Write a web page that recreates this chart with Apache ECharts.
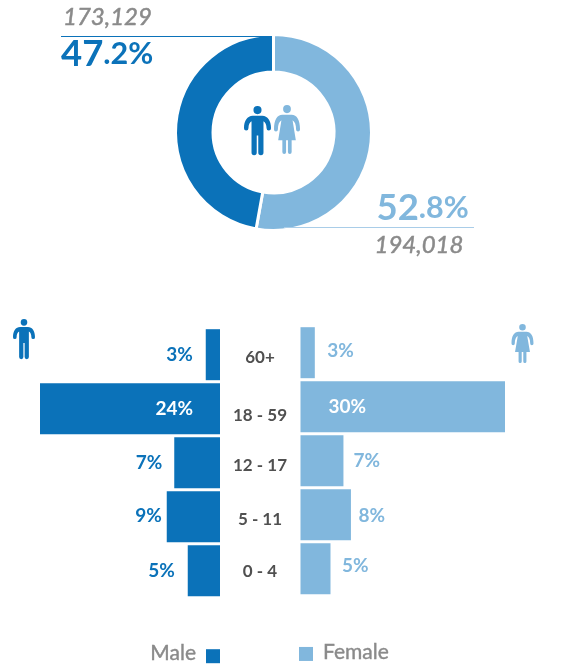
<!DOCTYPE html>
<html>
<head>
<meta charset="utf-8">
<title>Population by sex and age</title>
<script src="https://cdn.jsdelivr.net/npm/echarts@6/dist/echarts.min.js"></script>
<style>
  html, body { margin: 0; padding: 0; background: #fff; }
  #chart { width: 568px; height: 664px; }
</style>
</head>
<body>
<div id="chart"></div>
<script>
// headline totals
const sexNames = ['Female', 'Male']
const sexTotals = [194018, 173129]
const sexShareWhole = ['52', '47']
const sexShareRest = ['.8%', '.2%']

// age pyramid, top row first. bar lengths are read off the picture, they
// don't follow the printed percentages exactly
const ageGroups = ['60+', '18 - 59', '12 - 17', '5 - 11', '0 - 4']
const maleBars = [1.9, 24, 6.1, 7.1, 4.3]
const femaleBars = [2.1, 30, 6.3, 7.4, 4.4]
const maleLabels = ['3%', '24%', '7%', '9%', '5%']
const femaleLabels = ['3%', '30%', '7%', '8%', '5%']

const BLUE = '#0b72b9'
const LIGHT = '#81b7dd'
const GREY = '#8a8a8a'
const FONT = 'Lato'

// the source labels are hand placed, so nudge each one: [gap from bar end, dy]
// a negative gap means the label sits inside the bar, that far from the axis
const maleLabelNudge = [[13, 0], [-27, 0], [12, 0], [5, -1], [13, 0]]
const femaleLabelNudge = [[12.5, -1.5], [-28, 0], [10, 0], [7.5, 1.5], [11.5, -3]]
const ageLabelDy = [3, 6.5, 3, 3, 1]

// icons, drawn in a 28 x 50 box
const manIcon = 'M14 0a4.2 4.2 0 1 1 0 8.4a4.2 4.2 0 1 1 0-8.4z' +
  'M9 10H19C24.5 10 28 15 28 22.8a2.3 2.3 0 0 1-4.6 0C23.4 19 22 16.5 20.2 15.5V47.5a2.7 2.7 0 0 1-5.4 0V30H13.2' +
  'V47.5a2.7 2.7 0 0 1-5.4 0V15.5C6 16.5 4.6 19 4.6 22.8a2.3 2.3 0 0 1-4.6 0C0 15 3.5 10 9 10z'
const womanIcon = 'M14 0a4.2 4.2 0 1 1 0 8.4a4.2 4.2 0 1 1 0-8.4z' +
  'M9 10H19C24.5 10 28 15 28 25a2.1 2.1 0 0 1-4.2 0C23.8 20 22.5 17 20 15.5L23.5 36H19V48a2 2 0 0 1-4 0V36H13' +
  'V48a2 2 0 0 1-4 0V36H4.5L8 15.5C5.5 17 4.2 20 4.2 25a2.1 2.1 0 0 1-4.2 0C0 15 3.5 10 9 10z'

echarts.graphic.registerShape('manIcon', echarts.graphic.extendPath(manIcon, {}))
echarts.graphic.registerShape('womanIcon', echarts.graphic.extendPath(womanIcon, {}))

const icon = (type, color, x, y, width, height) => ({
  type,
  x,
  y,
  scaleX: width / 28,
  scaleY: height / 50,
  style: { fill: color }
})

const leader = (x1, x2, y, color) => ({
  type: 'line',
  z: 10,
  shape: { x1, y1: y, x2, y2: y },
  style: { stroke: color, lineWidth: 1 }
})

const headline = (x, y, whole, rest, color) => ({
  type: 'text',
  x,
  y,
  style: {
    text: `{a|${whole}}{b|${rest}}`,
    rich: {
      a: { fontFamily: FONT, fontSize: 36.5, fontWeight: 'bold', fill: color, lineHeight: 44 },
      b: { fontFamily: FONT, fontSize: 30.5, fontWeight: 'bold', fill: color, lineHeight: 44 }
    }
  }
})

// no medium weight to hand, a thin same colour outline gets close to it
const count = (x, y, value) => ({
  type: 'text',
  x,
  y,
  style: {
    text: value.toLocaleString('en-US'),
    fontFamily: FONT,
    fontSize: 24,
    fontStyle: 'italic',
    fill: GREY,
    stroke: GREY,
    lineWidth: 0.5
  }
})

const barData = (values, labels, nudges, color, side, insideSide) => values.map((value, i) => {
  const inside = nudges[i][0] < 0
  return {
    value,
    label: {
      formatter: labels[i],
      position: inside ? insideSide : side,
      distance: Math.abs(nudges[i][0]),
      offset: [0, nudges[i][1]],
      color: inside ? '#fff' : color
    }
  }
})

const maleData = barData(maleBars, maleLabels, maleLabelNudge, BLUE, 'left', 'insideRight')
const femaleData = barData(femaleBars, femaleLabels, femaleLabelNudge, LIGHT, 'right', 'insideLeft')

const barLabel = { show: true, fontFamily: FONT, fontSize: 19, fontWeight: 'bold' }

const ageRich = {}
ageLabelDy.forEach((dy, i) => {
  ageRich['r' + i] = {
    fontFamily: FONT,
    fontSize: 17,
    fontWeight: 'bold',
    color: '#505050',
    padding: [dy * 2, 0, 0, 0]
  }
})

// the legend text sits a little above the middle of its square
const legendText = padding => ({
  rich: {
    t: {
      fontFamily: FONT,
      fontSize: 21,
      lineHeight: 21,
      color: GREY,
      textBorderColor: GREY,
      textBorderWidth: 0.4,
      padding
    }
  }
})

const chart = echarts.init(document.getElementById('chart'))

chart.setOption({
  animation: false,
  backgroundColor: '#fff',
  legend: [
    {
      data: ['Male'],
      right: 348,
      top: 642.5,
      align: 'right',
      itemWidth: 14,
      itemHeight: 14,
      padding: 0,
      selectedMode: false,
      icon: 'rect',
      formatter: '{t|{name}}',
      textStyle: legendText([0, 5, 6, 0])
    },
    {
      data: ['Female'],
      left: 299,
      top: 641.5,
      align: 'left',
      itemWidth: 14,
      itemHeight: 14,
      padding: 0,
      selectedMode: false,
      icon: 'rect',
      formatter: '{t|{name}}',
      textStyle: legendText([0, 0, 3.5, 5])
    }
  ],
  grid: [
    { left: 40, top: 327.7, width: 180, height: 270 },
    { left: 300.5, top: 325.7, width: 204.5, height: 270 }
  ],
  xAxis: [
    { gridIndex: 0, type: 'value', inverse: true, min: 0, max: 24, show: false },
    { gridIndex: 1, type: 'value', min: 0, max: 30, show: false }
  ],
  yAxis: [
    {
      gridIndex: 0,
      type: 'category',
      data: ageGroups,
      inverse: true,
      position: 'right',
      axisLine: { show: false },
      axisTick: { show: false },
      axisLabel: {
        align: 'center',
        margin: 40,
        formatter: (value, index) => `{r${index}|${value}}`,
        rich: ageRich
      }
    },
    {
      gridIndex: 1,
      type: 'category',
      data: ageGroups,
      inverse: true,
      show: false
    }
  ],
  series: [
    {
      type: 'pie',
      name: 'Sex',
      center: [273.5, 132.5],
      radius: [60.5, 98],
      startAngle: 90,
      silent: true,
      label: { show: false },
      labelLine: { show: false },
      itemStyle: { borderColor: '#fff', borderWidth: 3 },
      data: [
        { name: sexNames[0], value: sexTotals[0], itemStyle: { color: LIGHT } },
        { name: sexNames[1], value: sexTotals[1], itemStyle: { color: BLUE } }
      ]
    },
    {
      type: 'bar',
      name: 'Male',
      xAxisIndex: 0,
      yAxisIndex: 0,
      barWidth: 51,
      itemStyle: { color: BLUE },
      label: barLabel,
      data: maleData
    },
    {
      type: 'bar',
      name: 'Female',
      xAxisIndex: 1,
      yAxisIndex: 1,
      barWidth: 51,
      itemStyle: { color: LIGHT },
      label: barLabel,
      data: femaleData
    }
  ],
  graphic: [
    leader(61, 272, 36.5, BLUE),
    leader(284, 474, 227.5, '#a9cde8'),
    count(63, 5, sexTotals[1]),
    count(374.5, 233, sexTotals[0]),
    headline(61, 32, sexShareWhole[1], sexShareRest[1], BLUE),
    headline(376.5, 186, sexShareWhole[0], sexShareRest[0], LIGHT),
    icon('manIcon', BLUE, 244, 106, 27, 49),
    icon('womanIcon', LIGHT, 274, 105, 26, 49),
    icon('manIcon', BLUE, 13, 319, 22, 40),
    icon('womanIcon', LIGHT, 511.5, 324, 22, 39)
  ]
})
</script>
</body>
</html>
